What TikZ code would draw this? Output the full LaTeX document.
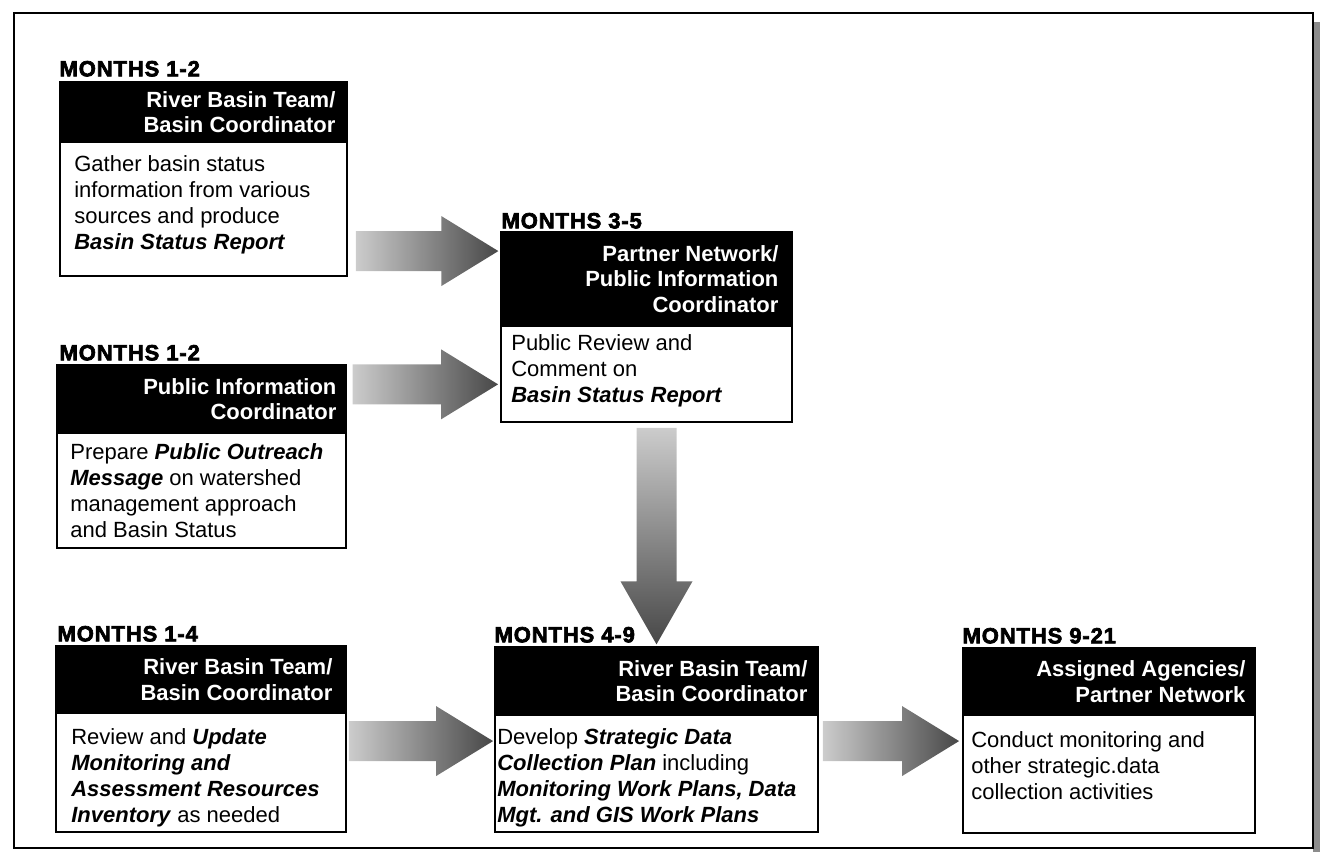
\documentclass[tikz,border=0pt]{standalone}
\usepackage{fontspec}
\setmainfont{Liberation Sans}
\newfontfamily\heavyfont[FakeBold=3,LetterSpace=4]{Liberation Sans Bold}
\usetikzlibrary{calc,fit}

\newcommand{\bi}[1]{\textbf{\textit{#1}}}
% fat shaded arrow pointing right: #1 tail point, #2 tip point
\newcommand{\fatright}[2]{%
  \shade[fatarrow] ($(#1)+(0,-20)$) -- ($(#2)+(-57,-20)$) -- ($(#2)+(-57,-35)$)
    -- (#2) -- ($(#2)+(-57,35)$) -- ($(#2)+(-57,20)$) -- ($(#1)+(0,20)$) -- cycle;}
% fat shaded arrow pointing down: #1 tail point, #2 tip point
\newcommand{\fatdown}[2]{%
  \shade[fatdownstyle] ($(#1)+(-20,0)$) -- ($(#2)+(-20,-63)$) -- ($(#2)+(-36,-63)$)
    -- (#2) -- ($(#2)+(36,-63)$) -- ($(#2)+(20,-63)$) -- ($(#1)+(20,0)$) -- cycle;}

\begin{document}
\begin{tikzpicture}[x=0.75pt,y=-0.75pt,
  hdr/.style={fill=black, draw=black, inner sep=0pt, line width=1pt},
  bod/.style={fill=white, draw=black, inner sep=0pt, line width=1.4pt},
  mon/.style={anchor=base west, inner sep=0pt, font=\heavyfont\fontsize{16.5}{16.5}\selectfont},
  htext/.style={anchor=east, inner sep=0pt, text=white, align=right,
    font=\bfseries\fontsize{16.5}{19}\selectfont},
  btext/.style={anchor=north west, inner sep=0pt, align=left,
    font=\fontsize{16.5}{19.5}\selectfont},
  fatarrow/.style={left color=black!20, right color=black!72},
  fatdownstyle/.style={top color=black!20, bottom color=black!72}]

\useasboundingbox (0,0) rectangle (1321,857);

% page frame with a shadow strip on the right
\fill[black!45] (1313,22) rectangle (1320,852);
\draw[line width=1.6pt] (14,13) rectangle (1313,848);

% ---- step boxes: body first, header on top ----
% box 1
\node[bod, fit={(60,142) (347,276)}] (b1) {};
\node[hdr, fit={(60,82) (347,142)}] (h1) {};
\node[mon] (m1) at ($(h1.north west)+(0,-5)$) {MONTHS 1-2};
\node[htext] (h1t) at ($(h1.east)+(-12,0)$) {River Basin Team/\\Basin Coordinator};
\node[btext] (t1) at ($(b1.north west)+(15,14)$)
  {Gather basin status\\information from various\\sources and produce\\\bi{Basin Status Report}};

% box 2
\node[bod, fit={(57,433) (346,548)}] (b2) {};
\node[hdr, fit={(57,365) (346,433)}] (h2) {};
\node[mon] (m2) at ($(h2.north west)+(3,-4)$) {MONTHS 1-2};
\node[htext] (h2t) at ($(h2.east)+(-10,0)$) {Public Information\\Coordinator};
\node[btext] (t2) at ($(b2.north west)+(14,11)$)
  {Prepare \bi{Public Outreach}\\\bi{Message} on watershed\\management approach\\and Basin Status};

% box 3
\node[bod, fit={(56,713) (346,832)}] (b3) {};
\node[hdr, fit={(56,646) (346,713)}] (h3) {};
\node[mon] (m3) at ($(h3.north west)+(2,-4)$) {MONTHS 1-4};
\node[htext] (h3t) at ($(h3.east)+(-14,0)$) {River Basin Team/\\Basin Coordinator};
\node[btext] (t3) at ($(b3.north west)+(16,16)$)
  {Review and \bi{Update}\\\bi{Monitoring and}\\\bi{Assessment Resources}\\\bi{Inventory} as needed};

% box 4
\node[bod, fit={(501,326) (792,422)}] (b4) {};
\node[hdr, fit={(501,232) (792,326)}] (h4) {};
\node[mon] (m4) at ($(h4.north west)+(1,-3)$) {MONTHS 3-5};
\node[htext] (h4t) at ($(h4.east)+(-14,0)$) {Partner Network/\\Public Information\\Coordinator};
\node[btext] (t4) at ($(b4.north west)+(11,9)$)
  {Public Review and\\Comment on\\\bi{Basin Status Report}};

% box 5
\node[bod, fit={(495,715) (818,832)}] (b5) {};
\node[hdr, fit={(495,647) (818,715)}] (h5) {};
\node[mon] (m5) at ($(h5.north west)+(0,-4)$) {MONTHS 4-9};
\node[htext] (h5t) at ($(h5.east)+(-11,0)$) {River Basin Team/\\Basin Coordinator};
\node[btext] (t5) at ($(b5.north west)+(3,14)$)
  {Develop \bi{Strategic Data}\\\bi{Collection Plan} including\\\bi{Monitoring Work Plans, Data}\\\bi{Mgt. and GIS Work Plans}};

% box 6
\node[bod, fit={(963,715) (1255,833)}] (b6) {};
\node[hdr, fit={(963,648) (1255,715)}] (h6) {};
\node[mon] (m6) at ($(h6.north west)+(0,-4)$) {MONTHS 9-21};
\node[htext] (h6t) at ($(h6.east)+(-10,0)$) {Assigned Agencies/\\Partner Network};
\node[btext] (t6) at ($(b6.north west)+(9,17)$)
  {Conduct monitoring and\\other strategic.data\\collection activities};

% ---- arrow end points, taken from the boxes ----
\coordinate (a1s) at ($(b1.north east)+(8,110)$);
\coordinate (a1e) at ($(h4.west |- a1s)+(-2,0)$);
\coordinate (a2s) at ($(h2.north east)+(6,20)$);
\coordinate (a2e) at ($(b4.west |- a2s)+(-2,0)$);
\coordinate (a3s) at ($(b4.south)+(10,5)$);
\coordinate (a3e) at ($(a3s |- h5.north)+(0,-2)$);
\coordinate (a4s) at ($(b3.north east)+(2,29)$);
\coordinate (a4e) at ($(b5.west |- a4s)+(-1,0)$);
\coordinate (a5s) at ($(b5.north east)+(4,27)$);
\coordinate (a5e) at ($(b6.west |- a5s)+(-3,0)$);

% ---- fat arrows ----
\fatright{a1s}{a1e}
\fatright{a2s}{a2e}
\fatdown{a3s}{a3e}
\fatright{a4s}{a4e}
\fatright{a5s}{a5e}

\end{tikzpicture}
\end{document}
